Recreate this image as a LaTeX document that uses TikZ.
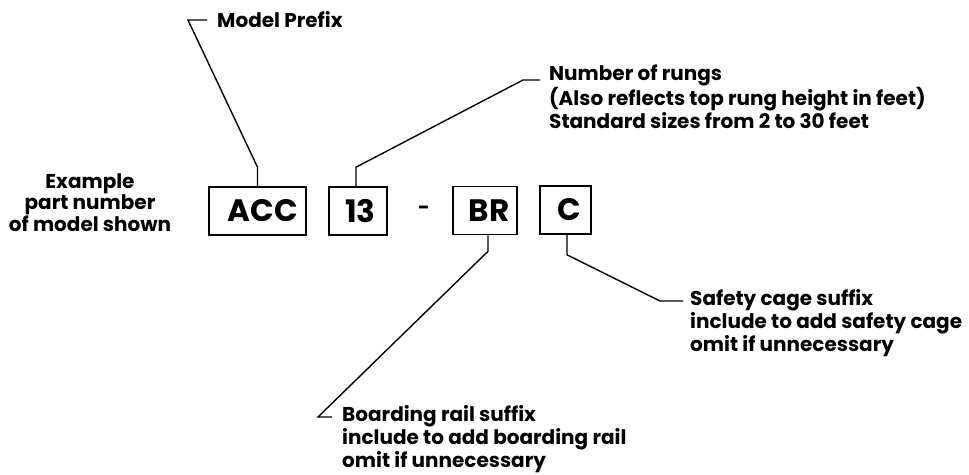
\documentclass[tikz,border=0pt]{standalone}
\usepackage{fontspec}
\setmainfont{Poppins}
\begin{document}
\begin{tikzpicture}[x=1pt,y=-1pt,
  lbl/.style={font=\fontsize{20}{21.5}\selectfont\bfseries, inner sep=0pt, align=left, anchor=base west},
  box/.style={draw, line width=1.6pt, minimum height=48pt, inner sep=0pt, font=\fontsize{31}{31}\selectfont\bfseries},
  lead/.style={line width=1.4pt, line join=miter}]
\useasboundingbox (0,0) rectangle (969,474);
% boxes
\node[box, minimum width=97pt] (acc) at (257.5,211) {\hspace*{11pt}ACC};
\node[box, minimum width=58pt] (n13) at (358,211) {\hspace*{5pt}13};
\node[lbl, anchor=center] (hy) at (424,210) {-};
\node[box, minimum width=64pt] (br) at (485,210.5) {\hspace*{8pt}BR};
\node[box, minimum width=51pt] (cc) at (565.5,210) {\hspace*{8pt}C};
% labels (base anchor = baseline of last line)
\node[lbl, align=center, anchor=base] (ex) at (90,231) {Example\\part number\\of model shown};
\node[lbl] (mp) at (217,27) {Model Prefix};
\node[lbl] (nr) at (549,128) {Number of rungs\\(Also reflects top rung height in feet)\\Standard sizes from 2 to 30 feet};
\node[lbl] (sc) at (690,351) {Safety cage suffix\\include to add safety cage\\omit if unnecessary};
\node[lbl] (bd) at (342,467) {Boarding rail suffix\\include to add boarding rail\\omit if unnecessary};
% leader end points
\coordinate (mpA) at (188,20);
\coordinate (mpB) at (207,20);
\coordinate (nrA) at (523,80);
\coordinate (nrB) at (540,80);
\coordinate (scA) at (660,301);
\coordinate (scB) at (683,301);
\coordinate (bdA) at (318,417);
\coordinate (bdB) at (332,417);
% leaders
\draw[lead] (acc.north) -- ++(0,-19) -- (mpA) -- (mpB);
\draw[lead] ([xshift=-2pt]n13.north) -- ++(0,-19) -- (nrA) -- (nrB);
\draw[lead] ([xshift=3pt]br.south) -- ++(0,16) -- (bdA) -- (bdB);
\draw[lead] ([xshift=1.5pt]cc.south) -- ++(0,20) -- (scA) -- (scB);
\end{tikzpicture}
\end{document}
